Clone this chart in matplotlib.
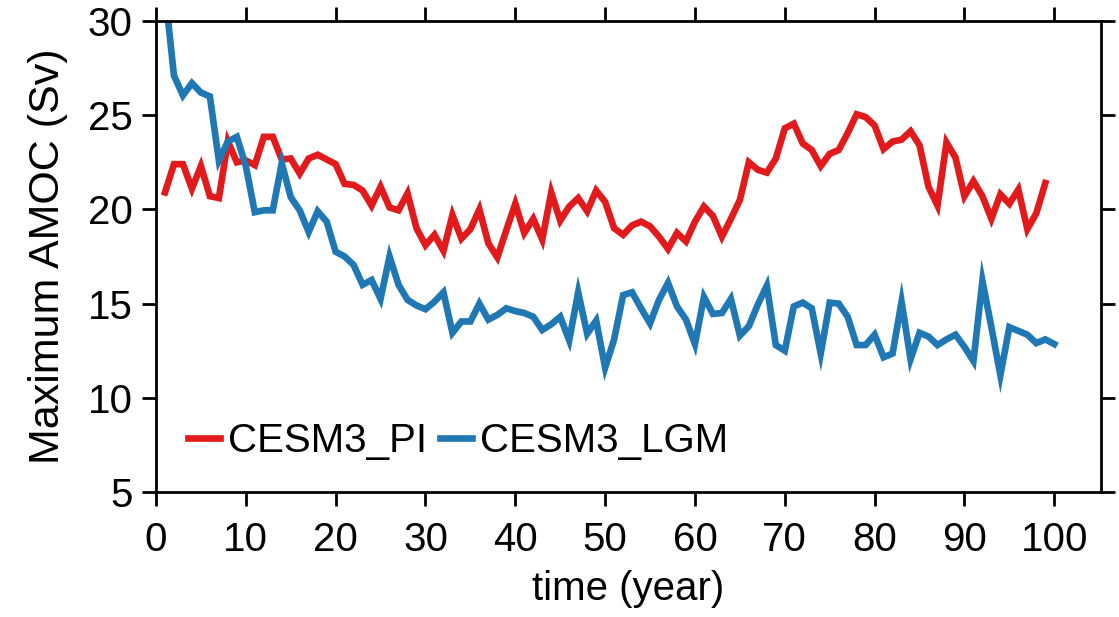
import numpy as np
import matplotlib
matplotlib.use('Agg')
import matplotlib.pyplot as plt

# values
pi_amoc = [20.9, 22.4, 22.4, 21.1, 22.3, 20.7, 20.6, 23.6, 22.5, 22.6,
           22.35, 23.85, 23.85, 22.65, 22.7, 21.9, 22.7, 22.9, 22.65, 22.4,
           21.35, 21.3, 21.0, 20.2, 21.2, 20.1, 19.95, 20.85, 19.0, 18.1,
           18.65, 17.8, 19.7, 18.45, 18.95, 20.0, 18.2, 17.45, 18.9, 20.3,
           18.75, 19.5, 18.4, 20.9, 19.4, 20.15, 20.6, 19.9, 21.0, 20.4,
           19.0, 18.65, 19.15, 19.35, 19.1, 18.55, 17.9, 18.75, 18.3, 19.35,
           20.15, 19.65, 18.55, 19.5, 20.5, 22.5, 22.1, 21.95, 22.7, 24.3,
           24.55, 23.5, 23.15, 22.3, 22.95, 23.15, 24.05, 25.05, 24.9, 24.45,
           23.2, 23.6, 23.7, 24.15, 23.4, 21.2, 20.2, 23.55, 22.75, 20.7,
           21.5, 20.7, 19.5, 20.8, 20.3, 21.05, 18.95, 19.8, 21.4]
lgm_amoc = [31.6, 27.1, 26.05, 26.7, 26.2, 26.0, 22.6, 23.6, 23.85, 22.3,
            19.85, 19.95, 19.95, 22.45, 20.65, 19.95, 18.8, 19.9, 19.35, 17.75,
            17.5, 17.05, 16.0, 16.25, 15.25, 17.5, 16.0, 15.2, 14.9, 14.7,
            15.1, 15.6, 13.45, 14.05, 14.05, 15.0, 14.15, 14.4, 14.75, 14.6,
            14.5, 14.3, 13.6, 13.9, 14.3, 13.05, 15.6, 13.4, 14.1, 11.6,
            13.1, 15.45, 15.6, 14.75, 13.95, 15.2, 16.1, 14.85, 14.15, 12.85,
            15.35, 14.45, 14.5, 15.25, 13.3, 13.8, 14.95, 15.95, 12.8, 12.5,
            14.85, 15.05, 14.75, 12.35, 15.05, 15.0, 14.3, 12.8, 12.8, 13.35,
            12.15, 12.35, 15.1, 12.05, 13.45, 13.25, 12.8, 13.1, 13.35, 12.7,
            11.95, 16.2, 13.75, 11.2, 13.75, 13.55, 13.35, 12.9, 13.1, 12.85]
pi_years = np.arange(1, len(pi_amoc) + 1)
lgm_years = np.arange(1, len(lgm_amoc) + 1)

plt.rcParams['font.family'] = ['Liberation Sans', 'DejaVu Sans']
fs = 29

fig = plt.figure(figsize=(11.19, 6.17), dpi=100)
ax = fig.add_axes([0.1394, 0.2026, 0.8445, 0.7634])

ax.plot(pi_years, pi_amoc, color='#e31a1c', lw=4.8, label='CESM3_PI',
        solid_joinstyle='miter')
ax.plot(lgm_years, lgm_amoc, color='#1f78b4', lw=4.8, label='CESM3_LGM',
        solid_joinstyle='miter')

ax.set_xlim(0, 105.2)
ax.set_ylim(5, 30)
ax.set_xticks(np.arange(0, 101, 10))
ax.set_yticks(np.arange(5, 31, 5))

for s in ax.spines.values():
    s.set_linewidth(2)
ax.tick_params(direction='out', top=True, right=True, length=10, width=2,
               labelsize=fs, pad=7)
ax.tick_params(axis='x', pad=11)

ax.set_xlabel('time (year)', fontsize=fs, labelpad=8)
ax.set_ylabel('Maximum AMOC (Sv)', fontsize=31, labelpad=14)

leg = ax.legend(loc='center left', bbox_to_anchor=(0.0, 0.108), ncol=2,
                frameon=False, fontsize=fs, handlelength=0.8,
                handletextpad=0.2, columnspacing=0.3, borderaxespad=0.4)

fig.savefig('out.png', dpi=100)
